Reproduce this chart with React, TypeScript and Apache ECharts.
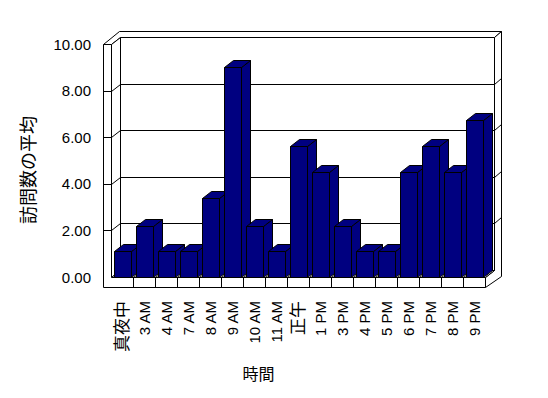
import React, { useEffect, useRef } from "react";
import * as echarts from "echarts";

const categories = ["真夜中", "3 AM", "4 AM", "7 AM", "8 AM", "9 AM", "10 AM", "11 AM", "正午", "1 PM", "3 PM", "4 PM", "5 PM", "6 PM", "7 PM", "8 PM", "9 PM"];
const visitAverages = [1.1, 2.2, 1.1, 1.1, 3.375, 9.0, 2.2, 1.1, 5.625, 4.5, 2.2, 1.1, 1.1, 4.5, 5.625, 4.5, 6.75];
const gridValues = [2, 4, 6, 8];
const yMin = 0;
const yMax = 10;
const yStep = 2;
const yAxisTitle = "訪問数の平均";
const xAxisTitle = "時間";

const FONT = "'Liberation Sans', 'Noto Sans CJK JP', sans-serif";
const BAR_COLOR = "#000080";

// 3D geometry (pixels)
const DX = 9, DY = -7; // floor depth
const TX = 7, TY = -6; // back wall thickness
const TW = 8; // left wall thickness
const TF = 9.5; // floor thickness

const s = (v: number) => Math.round(v) + 0.5;

function renderFrame(params: any, api: any) {
  const n = categories.length;
  const c0 = api.coord([0, yMin]);
  const band = api.size([1, 0])[0];
  const L = c0[0] - band / 2;
  const R = L + band * n;
  const Y0 = c0[1];
  const Y10 = api.coord([0, yMax])[1];
  const yv = (v: number) => api.coord([0, v])[1];
  const P = (pts: number[][]) => ({
    type: "polygon",
    shape: { points: pts.map(([x, y]) => [s(x), s(y)]) },
    style: { fill: "#fff", stroke: "#000", lineWidth: 1 },
  });
  const Ln = (x1: number, y1: number, x2: number, y2: number) => ({
    type: "line",
    shape: { x1: s(x1), y1: s(y1), x2: s(x2), y2: s(y2) },
    style: { stroke: "#000", lineWidth: 1 },
  });
  const children: any[] = [
    P([[L + DX, Y10 + DY], [R + DX, Y10 + DY], [R + DX, Y0 + DY], [L + DX, Y0 + DY]]),
    P([[L - TW, Y10], [L, Y10], [L + DX, Y10 + DY], [R + DX, Y10 + DY], [R + DX + TX, Y10 + DY + TY], [L - TW + DX + TX, Y10 + DY + TY]]),
    P([[R + DX, Y10 + DY], [R + DX + TX, Y10 + DY + TY], [R + DX + TX, Y0 + TF - 11], [R, Y0 + TF], [R, Y0], [R + DX, Y0 + DY]]),
    P([[L, Y10], [L + DX, Y10 + DY], [L + DX, Y0 + DY], [L, Y0]]),
    P([[L, Y0], [R, Y0], [R + DX, Y0 + DY], [L + DX, Y0 + DY]]),
    P([[L - TW, Y10], [L, Y10], [L, Y0], [R, Y0], [R, Y0 + TF], [L - TW, Y0 + TF]]),
  ];
  gridValues.forEach((v) => {
    const y = yv(v);
    children.push(Ln(L + DX, y + DY, R + DX, y + DY));
    children.push(Ln(L, y, L + DX, y + DY));
    children.push(Ln(L - TW, y, L, y));
    children.push(Ln(R + DX, y + DY, R + DX + TX, y + DY + TY));
  });
  for (let k = 1; k < n; k++) {
    const x = L + k * band;
    children.push(Ln(x, Y0, x, Y0 + TF));
    children.push(Ln(x, Y0, x + DX, Y0 + DY));
  }
  return { type: "group", children };
}

function renderBar(params: any, api: any) {
  const i = api.value(0);
  const v = api.value(1);
  const top = api.coord([i, v]);
  const base = api.coord([i, 0]);
  const band = api.size([1, 0])[0];
  const x1 = s(top[0] - band / 2 + band * (3 / 22));
  const x2 = s(top[0] - band / 2 + band * (20 / 22));
  const yt = s(top[1]);
  const yb = s(base[1]);
  const st = { fill: BAR_COLOR, stroke: "#000", lineWidth: 1 };
  return {
    type: "group",
    children: [
      { type: "polygon", shape: { points: [[x2, yt], [x2 + DX, yt + DY], [x2 + DX, yb + DY], [x2, yb]] }, style: st },
      { type: "polygon", shape: { points: [[x1, yt], [x2, yt], [x2 + DX, yt + DY], [x1 + DX, yt + DY]] }, style: st },
      { type: "polygon", shape: { points: [[x1, yt], [x2, yt], [x2, yb], [x1, yb]] }, style: st },
    ],
  };
}

export default function App() {
  const ref = useRef<HTMLDivElement>(null);
  useEffect(() => {
    if (!ref.current) return;
    const chart = echarts.init(ref.current, null, { renderer: "svg" });
    chart.setOption({
      animation: false,
      backgroundColor: "#fff",
      grid: { left: 111, top: 44, width: 374, height: 233, containLabel: false },
      xAxis: {
        type: "category",
        data: categories.map((c) => ({ value: c, textStyle: { fontSize: /[A-Z0-9]/.test(c) ? 15 : 17 } })),
        axisLine: { show: false },
        axisTick: { show: false },
        splitLine: { show: false },
        axisLabel: { rotate: 90, interval: 0, margin: 24, color: "#000", fontFamily: FONT, fontSize: 15 },
      },
      yAxis: {
        type: "value",
        min: yMin,
        max: yMax,
        interval: yStep,
        axisLine: { show: false },
        axisTick: { show: false },
        splitLine: { show: false },
        axisLabel: { formatter: (v: number) => v.toFixed(2), margin: 20, color: "#000", fontFamily: FONT, fontSize: 15 },
      },
      graphic: [
        { type: "text", x: 28.5, y: 170, rotation: Math.PI / 2, style: { text: yAxisTitle, fill: "#000", font: `18px ${FONT}`, align: "center", verticalAlign: "middle" } },
        { type: "text", x: 258.5, y: 374, style: { text: xAxisTitle, fill: "#000", font: `16px ${FONT}`, align: "center", verticalAlign: "middle" } },
      ],
      series: [
        { type: "custom", silent: true, clip: false, renderItem: renderFrame, data: [[0, 0]], z: 1 },
        { type: "custom", silent: true, clip: false, renderItem: renderBar, data: visitAverages.map((v, i) => [i, v]), encode: { x: 0, y: 1 }, z: 2 },
      ],
    });
    return () => chart.dispose();
  }, []);
  return <div ref={ref} style={{ position: "fixed", left: 0, top: 0, width: 548, height: 398 }} />;
}
